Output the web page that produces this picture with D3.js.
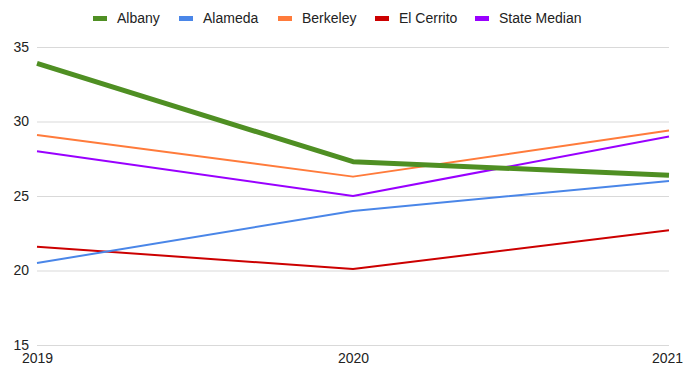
<!DOCTYPE html>
<html>
<head>
<meta charset="utf-8">
<script src="https://cdn.jsdelivr.net/npm/d3@7"></script>
<style>
  body { margin: 0; background: #fff; }
  text { font-family: "Liberation Sans", Arial, sans-serif; }
</style>
</head>
<body>
<div id="chart-area"></div>
<script>
const years = [2019, 2020, 2021];
const seriesNames = ["Albany", "Alameda", "Berkeley", "El Cerrito", "State Median"];
const albany = [33.9, 27.3, 26.4];
const alameda = [20.5, 24.0, 26.0];
const berkeley = [29.1, 26.3, 29.4];
const elCerrito = [21.6, 20.1, 22.7];
const stateMedian = [28.0, 25.0, 29.0];
const yTicks = [15, 20, 25, 30, 35];

const colors = ["#4f8f23", "#4a86e8", "#ff7b3b", "#cc0000", "#9900ff"];
const widths = [5, 2, 2, 2, 2];

const svgWidth = 683, svgHeight = 366;
const margin = {left: 37, right: 14, top: 47, bottom: 21};
const areaWidth = svgWidth - margin.left - margin.right;
const areaHeight = svgHeight - margin.top - margin.bottom;

const svg = d3.select("#chart-area").append("svg")
	.attr("width", svgWidth)
	.attr("height", svgHeight);

const area = svg.append("g")
	.attr("transform", `translate(${margin.left}, ${margin.top})`);

const x = d3.scaleLinear().domain([2019, 2021]).range([0, areaWidth]);
const y = d3.scaleLinear().domain([15, 35]).range([areaHeight, 0]);

// gridlines
area.append("g")
	.call(d3.axisLeft(y).tickValues(yTicks).tickSize(-areaWidth).tickFormat(""))
	.call(g => g.select(".domain").remove())
	.call(g => g.selectAll("line").attr("stroke", "#d9d9d9").attr("stroke-width", 1));

// y labels
area.append("g")
	.call(d3.axisLeft(y).tickValues(yTicks).tickSize(0).tickPadding(8))
	.call(g => g.select(".domain").remove())
	.call(g => g.selectAll("text").attr("font-size", "14px").attr("fill", "#222")
		.style("font-family", "Liberation Sans, Arial, sans-serif"));

// x labels
area.append("g")
	.attr("transform", `translate(0, ${areaHeight})`)
	.call(d3.axisBottom(x).tickValues(years).tickFormat(d3.format("d")).tickSize(0).tickPadding(8))
	.call(g => g.select(".domain").remove())
	.call(g => g.selectAll("text").attr("font-size", "14px").attr("fill", "#222")
		.style("font-family", "Liberation Sans, Arial, sans-serif"))
	// last label sits against the right edge
	.call(g => g.selectAll(".tick:last-of-type text").attr("dx", -2));

const series = [albany, alameda, berkeley, elCerrito, stateMedian].map((vals, i) => ({
	name: seriesNames[i],
	values: vals.map((v, j) => ({year: years[j], value: v}))
}));

const line = d3.line().x(d => x(d.year)).y(d => y(d.value));

// draw thin lines first, Albany on top
const order = [3, 1, 4, 2, 0];
area.selectAll(".series")
	.data(order.map(i => ({s: series[i], i: i})))
	.enter().append("path")
	.attr("class", "series")
	.attr("fill", "none")
	.attr("stroke", d => colors[d.i])
	.attr("stroke-width", d => widths[d.i])
	.attr("stroke-linejoin", "round")
	.attr("d", d => line(d.s.values));

// legend
const legendX = [93, 179, 278, 375, 475];
const legend = svg.append("g");
seriesNames.forEach((name, i) => {
	legend.append("rect")
		.attr("x", legendX[i])
		.attr("y", 16)
		.attr("width", 14)
		.attr("height", 5)
		.attr("fill", colors[i]);
	legend.append("text")
		.attr("x", legendX[i] + 24)
		.attr("y", 23)
		.attr("font-size", "14px")
		.attr("fill", "#222")
		.text(name);
});
</script>
</body>
</html>
